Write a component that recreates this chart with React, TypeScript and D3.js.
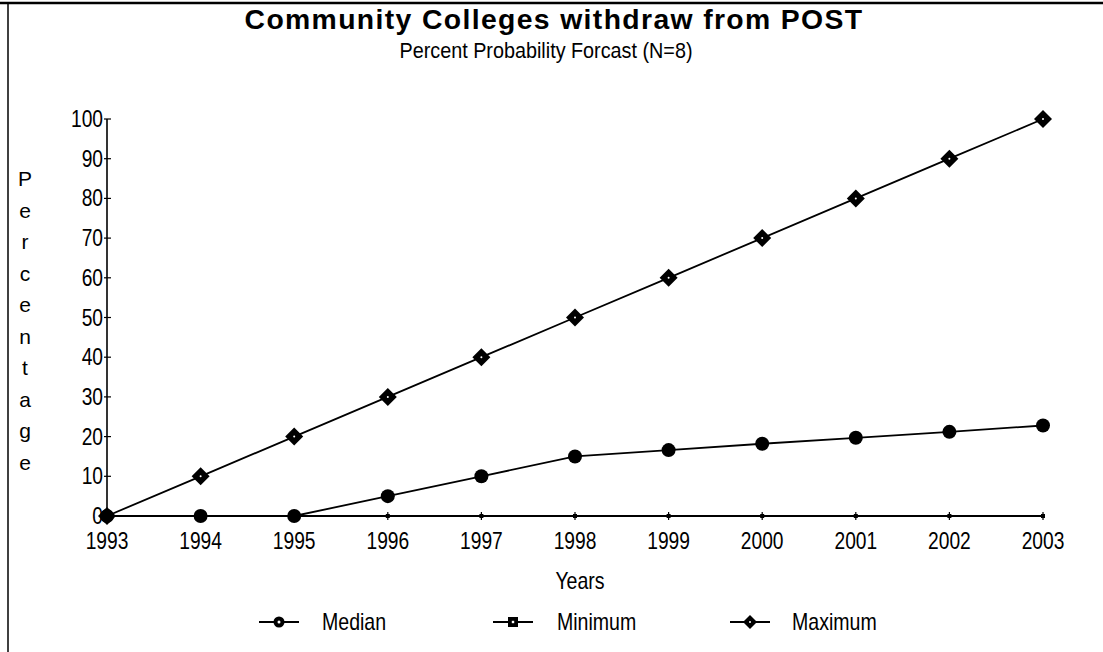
import React from "react";
import * as d3 from "d3";

const years = [1993, 1994, 1995, 1996, 1997, 1998, 1999, 2000, 2001, 2002, 2003];
const median = [0, 0, 0, 5, 10, 15, 16.6, 18.2, 19.7, 21.2, 22.8];
const minimum = [0, 0, 0, 0, 0, 0, 0, 0, 0, 0, 0];
const maximum = [0, 10, 20, 30, 40, 50, 60, 70, 80, 90, 100];
const yTicks = [0, 10, 20, 30, 40, 50, 60, 70, 80, 90, 100];
const axisLetters = ["P", "e", "r", "c", "e", "n", "t", "a", "g", "e"];

const width = 1103;
const height = 652;
const margin = { top: 119, right: 60, bottom: 136, left: 107 };
const sans = "'Liberation Sans', Arial, Helvetica, sans-serif";

// condensed text, the scan uses a narrow face
const NText = ({ x, y, sx = 0.8, anchor = "start", size = 24, children }: any) => (
  <text
    transform={`translate(${x},${y}) scale(${sx},1)`}
    textAnchor={anchor}
    fontFamily={sans}
    fontSize={size}
  >
    {children}
  </text>
);

const Diamond = ({ x, y, s }: { x: number; y: number; s: number }) => (
  <g transform={`translate(${x},${y})`}>
    <path d={`M0,${-s}L${s},0L0,${s}L${-s},0Z`} fill="#000" />
    <circle r={1} fill="#fff" />
  </g>
);

const App = () => {
  const innerW = width - margin.left - margin.right;
  const innerH = height - margin.top - margin.bottom;

  const x = d3.scaleLinear().domain([1993, 2003]).range([0, innerW]);
  const y = d3.scaleLinear().domain([0, 100]).range([innerH, 0]);

  const line = d3
    .line<number>()
    .x((_, i) => x(years[i]))
    .y((d) => y(d));

  const legend = [
    { name: "Median", cx: 279, tx: 322 },
    { name: "Minimum", cx: 513, tx: 557 },
    { name: "Maximum", cx: 750, tx: 792 },
  ];

  return (
    <svg width={width} height={height} style={{ position: "absolute", left: 0, top: 0, background: "#fff" }}>
      <line x1={0} x2={width} y1={3} y2={3} stroke="#000" strokeWidth={2.5} />
      <line x1={8} x2={8} y1={3} y2={height} stroke="#000" strokeWidth={1.5} />

      <text
        transform="translate(554,29) scale(1.05,1)"
        textAnchor="middle"
        fontFamily={sans}
        fontWeight="bold"
        fontSize={27}
        letterSpacing={1.3}
      >
        Community Colleges withdraw from POST
      </text>
      <NText x={546} y={58} anchor="middle" size={22} sx={0.9}>
        Percent Probability Forcast (N=8)
      </NText>

      {axisLetters.map((l, i) => (
        <text key={i} x={25} y={186 + i * 31.5} textAnchor="middle" fontFamily={sans} fontSize={21}>
          {l}
        </text>
      ))}

      <g transform={`translate(${margin.left},${margin.top})`}>
        {/* y axis */}
        <line x1={0} x2={0} y1={0} y2={innerH} stroke="#000" strokeWidth={1.6} />
        {yTicks.map((t) => (
          <g key={t}>
            <line x1={-3} x2={4} y1={y(t)} y2={y(t)} stroke="#000" strokeWidth={1.2} />
            <NText x={-4} y={y(t) + 8} anchor="end">
              {t}
            </NText>
          </g>
        ))}

        {/* x axis */}
        <line x1={0} x2={innerW} y1={innerH} y2={innerH} stroke="#000" strokeWidth={1.6} />
        {years.map((t) => (
          <g key={t}>
            <line x1={x(t)} x2={x(t)} y1={innerH - 4} y2={innerH + 4} stroke="#000" strokeWidth={1.2} />
            <NText x={x(t)} y={innerH + 33} anchor="middle">
              {t}
            </NText>
          </g>
        ))}
        <NText x={x(1998) + 5} y={innerH + 73} anchor="middle" size={23} sx={0.85}>
          Years
        </NText>

        {/* series */}
        <path d={line(maximum) ?? ""} fill="none" stroke="#000" strokeWidth={1.8} />
        <path d={line(minimum) ?? ""} fill="none" stroke="#000" strokeWidth={1.8} />
        <path d={line(median) ?? ""} fill="none" stroke="#000" strokeWidth={1.8} />
        {minimum.map((d, i) => (
          <rect key={`mn${i}`} x={x(years[i]) - 2} y={y(d) - 2} width={4} height={4} fill="#000" />
        ))}
        {maximum.map((d, i) => (
          <Diamond key={`mx${i}`} x={x(years[i])} y={y(d)} s={9} />
        ))}
        {median.map((d, i) => (
          <circle key={`md${i}`} cx={x(years[i])} cy={y(d)} r={7} fill="#000" />
        ))}
      </g>

      {/* legend */}
      {legend.map((l, i) => (
        <g key={l.name}>
          <line x1={l.cx - 20} x2={l.cx + 20} y1={622} y2={622} stroke="#000" strokeWidth={1.8} />
          {i === 0 && (
            <g>
              <circle cx={l.cx} cy={622} r={5.5} fill="#000" />
              <circle cx={l.cx} cy={622} r={1.5} fill="#fff" />
            </g>
          )}
          {i === 1 && (
            <g>
              <rect x={l.cx - 5} y={617} width={10} height={10} fill="#000" />
              <rect x={l.cx - 1.2} y={620.8} width={2.4} height={2.4} fill="#fff" />
            </g>
          )}
          {i === 2 && <Diamond x={l.cx} y={622} s={7} />}
          <NText x={l.tx} y={630} size={23} sx={0.85}>
            {l.name}
          </NText>
        </g>
      ))}
    </svg>
  );
};

export default App;
